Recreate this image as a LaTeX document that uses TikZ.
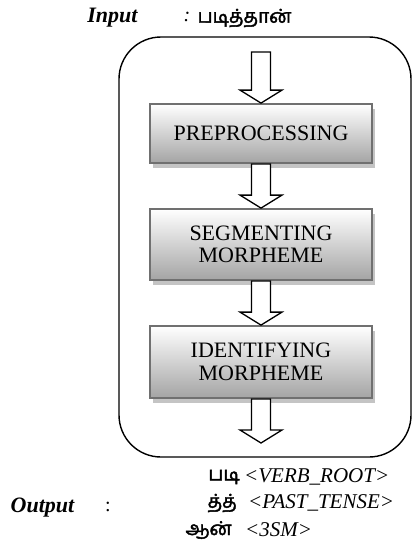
\documentclass[tikz,border=0pt]{standalone}
\usepackage{fontspec}
\setmainfont{Liberation Serif}
\newfontfamily\tamil[Script=Tamil, AutoFakeBold=2.2]{Hind Madurai}
\usetikzlibrary{calc,shadows}
\definecolor{boxborder}{HTML}{707070}
\definecolor{boxbottom}{HTML}{A4A4A4}
\definecolor{shadowgray}{HTML}{C4C4C4}
\tikzset{
  procbox/.style={draw=boxborder, line width=1.8pt, top color=white, bottom color=boxbottom,
    minimum width=222pt, inner sep=0pt, align=center,
    font=\fontsize{22}{22.5}\selectfont,
    drop shadow={shadow xshift=3pt, shadow yshift=-4.5pt, fill=shadowgray, opacity=1}},
  outerbox/.style={draw=black, line width=1.4pt, rounded corners=42pt},
  blkarr/.style={draw=black, line width=1.3pt, fill=white, line join=miter},
  latin/.style={font=\fontsize{21}{24}\selectfont\itshape, inner sep=0pt},
  tam/.style={font=\fontsize{19}{24}\selectfont\tamil\bfseries, inner sep=0pt},
  lbl/.style={font=\fontsize{22}{24}\selectfont\bfseries\itshape, inner sep=0pt},
  colon/.style={font=\fontsize{20}{24}\selectfont, inner sep=0pt}
}
\newcommand{\blkarrow}[2]{%
  \draw[blkarr] let \p1=(#1), \p2=(#2) in
    (\x1-9.5pt,\y1) -- (\x1-9.5pt,\y2+13pt) -- (\x1-21pt,\y2+13pt) -- (\x1,\y2)
    -- (\x1+21pt,\y2+13pt) -- (\x1+9.5pt,\y2+13pt) -- (\x1+9.5pt,\y1) -- cycle;}
\begin{document}
\begin{tikzpicture}[x=1pt,y=-1pt]
\useasboundingbox (0,0) rectangle (419,554);
% header
\node[lbl] (inlbl) at (112.5,18) {Input};
\node[colon] (incolon) at (187,17) {\textit{:}};
\node[tam] (inword) at (244.5,18) {படித்தான்};
% outer frame
\draw[outerbox] (119,37) rectangle (411,457);
% boxes
\node[procbox, minimum height=59pt] (b1) at (261,133.5) {PREPROCESSING};
\node[procbox, minimum height=71pt] (b2) at (261,244.5) {SEGMENTING\\MORPHEME};
\node[procbox, minimum height=72pt] (b3) at (261,362) {IDENTIFYING\\MORPHEME};
\coordinate (atop) at (261,52);
\coordinate (abot) at (261,443);
\blkarrow{atop}{b1.north}
\blkarrow{b1.south}{b2.north}
\blkarrow{b2.south}{b3.north}
\blkarrow{b3.south}{abot}
% output
\node[lbl] (outlbl) at (42.5,508) {Output};
\node[colon] (outcolon) at (108,507) {:};
\node[tam, anchor=east] (t1) at (240,477) {படி};
\node[latin, anchor=west] (l1) at (244,477) {<VERB\_ROOT>};
\node[tam, anchor=east] (t2) at (237,503) {த்த்};
\node[latin, anchor=west] (l2) at (248,503) {<PAST\_TENSE>};
\node[tam, anchor=east] (t3) at (232,530) {ஆன்};
\node[latin, anchor=west] (l3) at (245,530) {<3SM>};
\end{tikzpicture}
\end{document}
